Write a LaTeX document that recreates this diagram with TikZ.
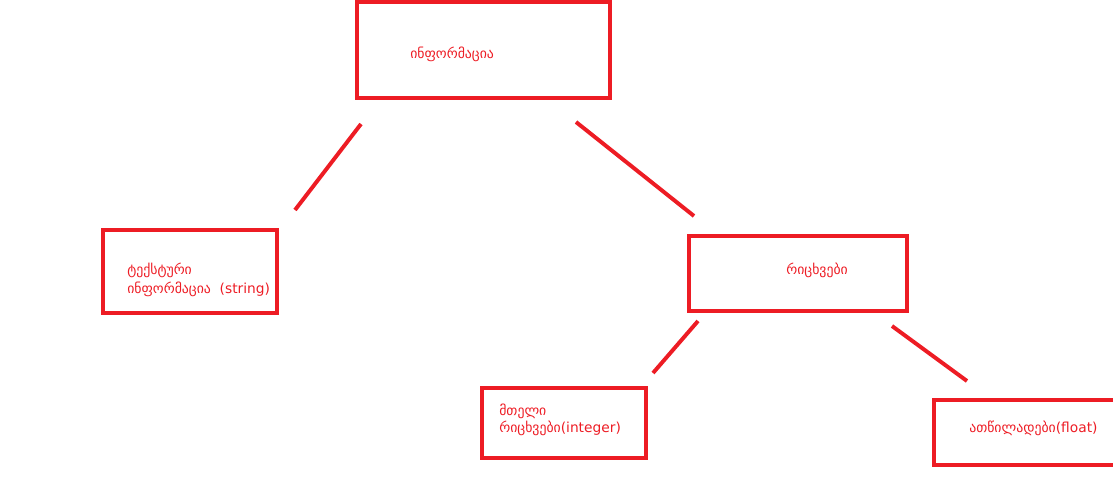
\documentclass[tikz,border=0pt]{standalone}
\usepackage{fontspec}
\setmainfont{DejaVu Sans}
\definecolor{paintred}{RGB}{237,28,36}
\tikzset{>=stealth}
\tikzset{
    box/.style={draw=paintred, line width=2.8pt, rectangle, inner sep=0pt},
    txt/.style={text=paintred, font=\fontsize{9.8}{12}\selectfont, inner sep=0pt, anchor=west, align=left}
}

\begin{document}
\begin{tikzpicture}[x=0.025cm, y=-0.025cm]
    \useasboundingbox (0,0) rectangle (1113,488);
    \node[box, minimum width=6.325cm, minimum height=2.4cm] (info) at (483.5,50) {};
    \node[box, minimum width=4.35cm, minimum height=2.075cm] (str) at (190,271.5) {};
    \node[box, minimum width=5.45cm, minimum height=1.875cm] (num) at (798,273.5) {};
    \node[box, minimum width=4.1cm, minimum height=1.75cm] (int) at (564,423) {};
    \node[box, minimum width=4.75cm, minimum height=1.625cm] (flt) at (1029,432.5) {};
    \node[txt] (infotxt) at (410,54) {ინფორმაცია};
    \node[txt, font=\fontsize{9.8}{14}\selectfont] (strtxt) at (127,280) {ტექსტური\\ინფორმაცია\ \ (string)};
    \node[txt] (numtxt) at (786,270) {რიცხვები};
    \node[txt] (inttxt) at (499,419.5) {მთელი\\რიცხვები(integer)};
    \node[txt] (flttxt) at (969,428) {ათწილადები(float)};
    \coordinate (A) at (361,124);
    \coordinate (B) at (295,210);
    \coordinate (C) at (576,122);
    \coordinate (D) at (694,216);
    \coordinate (E) at (698,321);
    \coordinate (F) at (653,373);
    \coordinate (G) at (892,326);
    \coordinate (H) at (967,381);
    \draw[paintred, line width=2.8pt] (A) -- (B);
    \draw[paintred, line width=2.8pt] (C) -- (D);
    \draw[paintred, line width=2.8pt] (E) -- (F);
    \draw[paintred, line width=2.8pt] (G) -- (H);
\end{tikzpicture}
\end{document}
